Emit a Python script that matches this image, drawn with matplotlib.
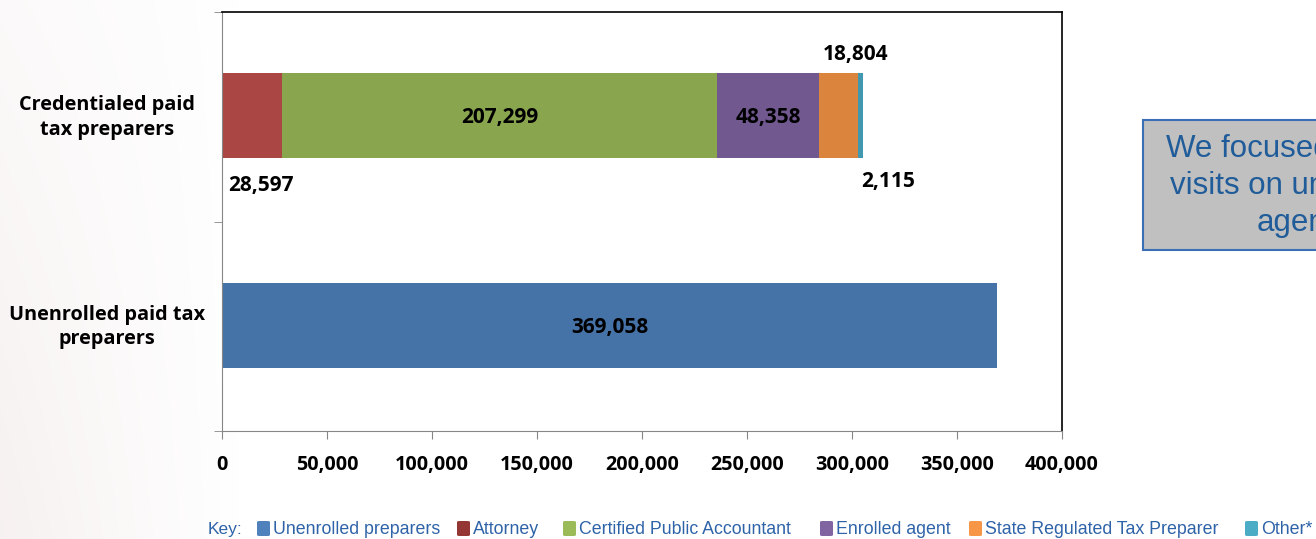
import matplotlib
matplotlib.use("Agg")
import matplotlib.pyplot as plt
from matplotlib.patches import Rectangle, FancyBboxPatch
import numpy as np

# ---- data ----
categories = ["Unenrolled paid tax\npreparers", "Credentialed paid\ntax preparers"]
series_names = ["Unenrolled preparers", "Attorney", "Certified Public Accountant",
                "Enrolled agent", "State Regulated Tax Preparer", "Other*"]
unenrolled_vals = [369058, 0, 0, 0, 0, 0]
credentialed_vals = [0, 28597, 207299, 48358, 18804, 2115]
xticks = [0, 50000, 100000, 150000, 200000, 250000, 300000, 350000, 400000]

bar_colors = ["#4572A7", "#AA4643", "#89A54E", "#71588F", "#DB843D", "#4198AF"]
key_colors = ["#4F81BD", "#943634", "#9BBB59", "#8064A2", "#F79646", "#4BACC6"]

W, H = 1316, 539
fig = plt.figure(figsize=(W / 100, H / 100), dpi=100)

# faint slide background tint on the left
bg = fig.add_axes([0, 0, 1, 1], zorder=-10)
gx = np.linspace(0, 1, 400)
gy = np.linspace(0, 1, 200)
GX, GY = np.meshgrid(gx, gy)
strength = np.clip(1 - GX / 0.18, 0, 1) * (0.4 + 0.6 * GY)
rgb = np.ones((len(gy), len(gx), 3))
tint = np.array([0.968, 0.945, 0.945])
for k in range(3):
    rgb[:, :, k] = 1 - strength * (1 - tint[k])
bg.imshow(rgb, extent=[0, 1, 0, 1], aspect="auto", origin="upper")
bg.axis("off")

ax = fig.add_axes([222 / W, 1 - 431 / H, (1062 - 222) / W, (431 - 12) / H])
ax.set_facecolor("white")

bold_font = dict(family="Open Sans", weight="bold", color="black")

values = np.array([unenrolled_vals, credentialed_vals])  # rows = categories
ypos = np.arange(len(categories))
left = np.zeros(len(categories))
for j, name in enumerate(series_names):
    vals = values[:, j]
    ax.barh(ypos + 0.005, vals, left=left, height=0.405, color=bar_colors[j], linewidth=0)
    left = left + vals

# data labels
lab_size = 15
cum = np.cumsum(values, axis=1)
def fmt(v):
    return f"{v:,.0f}"
ax.text(cum[0, 0] / 2, -0.005, fmt(values[0, 0]), ha="center", va="center", fontsize=lab_size, **bold_font)
ax.text(3000, 1 - 0.33, fmt(values[1, 1]), ha="left", va="center", fontsize=lab_size, **bold_font)
ax.text((cum[1, 1] + cum[1, 2]) / 2, 0.995, fmt(values[1, 2]), ha="center", va="center", fontsize=lab_size, **bold_font)
ax.text((cum[1, 2] + cum[1, 3]) / 2, 0.995, fmt(values[1, 3]), ha="center", va="center", fontsize=lab_size, **bold_font)
ax.text((cum[1, 3] + cum[1, 4]) / 2 + 8000, 1 + 0.295, fmt(values[1, 4]), ha="center", va="center", fontsize=lab_size, **bold_font)
ax.text(cum[1, 5] + 12000, 1 - 0.31, fmt(values[1, 5]), ha="center", va="center", fontsize=lab_size, **bold_font)

ax.set_xlim(0, 400000)
ax.set_ylim(-0.5, 1.5)
ax.set_xticks(xticks)
ax.set_xticklabels([f"{t:,}" for t in xticks], fontsize=14.2, **bold_font)
ax.set_yticks(ypos + 0.02)
ax.set_yticklabels(categories, fontsize=14.3, linespacing=1.3, ha="center", **bold_font)
ax.tick_params(axis="y", which="major", length=0, pad=83)
ax.set_yticks([-0.5, 0.5, 1.5], minor=True)
ax.tick_params(axis="y", which="minor", length=6, color="#868686", direction="out")
ax.tick_params(axis="x", which="major", length=6, color="#868686", direction="out", pad=11)
for s in ["left", "bottom"]:
    ax.spines[s].set_color("#868686")
for s in ["top", "right"]:
    ax.spines[s].set_color("#000000")
    ax.spines[s].set_linewidth(1.2)

# right-hand call-out box (cut off by the figure edge, as in the reference)
fig.patches.append(Rectangle((1143 / W, 1 - 250 / H), 320 / W, 130 / H,
                             transform=fig.transFigure, facecolor="#C0C0C0",
                             edgecolor="#3A6FB5", linewidth=1.5, zorder=0))
fig.text(1304 / W, 1 - 186 / H, "We focused our site\nvisits on unenrolled\nagents",
         ha="center", va="center", fontsize=22.5, family="Liberation Sans",
         color="#1F5C99", linespacing=1.32)

# key at the bottom
key_color_txt = "#2E63A8"
kb = 1 - 534 / H
fig.text(208 / W, kb, "Key:", ha="left", va="baseline", fontsize=12.5,
         family="Liberation Sans", color=key_color_txt)
square_x = [257, 457, 563, 820, 969, 1245]
for xs, name, c in zip(square_x, series_names, key_colors):
    fig.patches.append(FancyBboxPatch((xs / W, 1 - 536 / H), 13 / W, 15 / H,
                                      boxstyle="round,pad=0,rounding_size=0.002",
                                      transform=fig.transFigure, facecolor=c,
                                      edgecolor="none"))
    fig.text((xs + 16) / W, kb, name, ha="left", va="baseline", fontsize=12.8,
             family="Liberation Sans", color=key_color_txt)

fig.savefig("out.png", dpi=100)
